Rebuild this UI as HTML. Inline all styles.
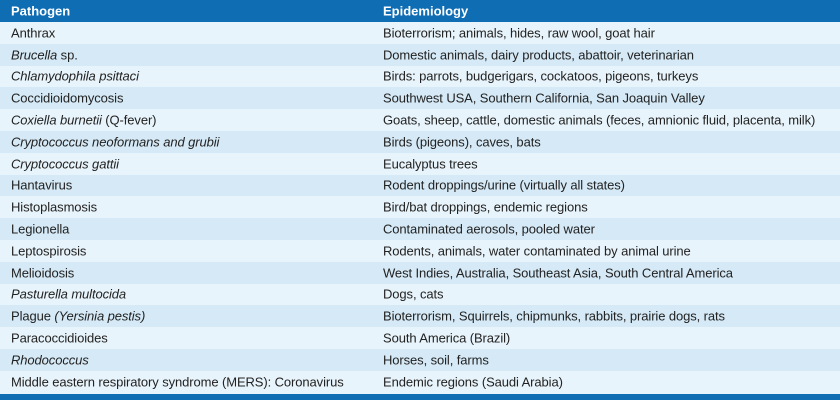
<!DOCTYPE html>
<html><head><style>
body{margin:0;width:840px;height:400px;overflow:hidden;background:#fff;font-family:"Liberation Sans",sans-serif;}
.h{position:absolute;left:0;top:0;width:840px;height:22px;background:#0f6db4;color:#fff;font-weight:bold;font-size:13px;}
.r{position:absolute;left:0;width:840px;height:21.8px;font-size:13px;color:#222;letter-spacing:-0.1px}
.a{background:#e8f4fb}.b{background:#d5e9f6}
.c1,.c2{position:absolute;top:50%;transform:translateY(-50%);white-space:nowrap}
.c1{left:11px}.c2{left:383px}
.bot{position:absolute;left:0;top:394px;width:840px;height:6px;background:#0f6db4}
</style></head><body>
<div class="h"><span class="c1">Pathogen</span><span class="c2">Epidemiology</span></div>
<div class="r a" style="top:22px"><span class="c1">Anthrax</span><span class="c2">Bioterrorism; animals, hides, raw wool, goat hair</span></div>
<div class="r b" style="top:43.8px"><span class="c1"><i>Brucella</i> sp.</span><span class="c2">Domestic animals, dairy products, abattoir, veterinarian</span></div>
<div class="r a" style="top:65.6px"><span class="c1"><i>Chlamydophila psittaci</i></span><span class="c2">Birds: parrots, budgerigars, cockatoos, pigeons, turkeys</span></div>
<div class="r b" style="top:87.4px"><span class="c1">Coccidioidomycosis</span><span class="c2">Southwest USA, Southern California, San Joaquin Valley</span></div>
<div class="r a" style="top:109.2px"><span class="c1"><i>Coxiella burnetii</i> (Q-fever)</span><span class="c2">Goats, sheep, cattle, domestic animals (feces, amnionic fluid, placenta, milk)</span></div>
<div class="r b" style="top:131px"><span class="c1"><i>Cryptococcus neoformans and grubii</i></span><span class="c2">Birds (pigeons), caves, bats</span></div>
<div class="r a" style="top:152.8px"><span class="c1"><i>Cryptococcus gattii</i></span><span class="c2">Eucalyptus trees</span></div>
<div class="r b" style="top:174.6px"><span class="c1">Hantavirus</span><span class="c2">Rodent droppings/urine (virtually all states)</span></div>
<div class="r a" style="top:196.4px"><span class="c1">Histoplasmosis</span><span class="c2">Bird/bat droppings, endemic regions</span></div>
<div class="r b" style="top:218.2px"><span class="c1">Legionella</span><span class="c2">Contaminated aerosols, pooled water</span></div>
<div class="r a" style="top:240px"><span class="c1">Leptospirosis</span><span class="c2">Rodents, animals, water contaminated by animal urine</span></div>
<div class="r b" style="top:261.8px"><span class="c1">Melioidosis</span><span class="c2">West Indies, Australia, Southeast Asia, South Central America</span></div>
<div class="r a" style="top:283.6px"><span class="c1"><i>Pasturella multocida</i></span><span class="c2">Dogs, cats</span></div>
<div class="r b" style="top:305.4px"><span class="c1">Plague <i>(Yersinia pestis)</i></span><span class="c2">Bioterrorism, Squirrels, chipmunks, rabbits, prairie dogs, rats</span></div>
<div class="r a" style="top:327.2px"><span class="c1">Paracoccidioides</span><span class="c2">South America (Brazil)</span></div>
<div class="r b" style="top:349px"><span class="c1"><i>Rhodococcus</i></span><span class="c2">Horses, soil, farms</span></div>
<div class="r a" style="top:370.8px;height:23.2px"><span class="c1">Middle eastern respiratory syndrome (MERS): Coronavirus</span><span class="c2">Endemic regions (Saudi Arabia)</span></div>
<div class="bot"></div>
</body></html>
